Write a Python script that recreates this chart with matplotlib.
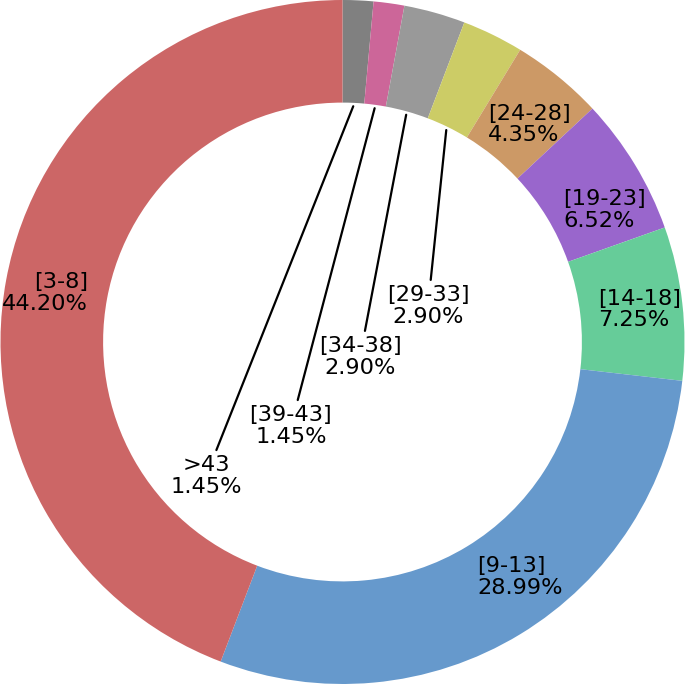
import numpy as np
import matplotlib
matplotlib.use("Agg")
import matplotlib.pyplot as plt

categories = [">43", "[39-43]", "[34-38]", "[29-33]", "[24-28]", "[19-23]", "[14-18]", "[9-13]", "[3-8]"]
counts = [2, 2, 4, 4, 6, 9, 10, 40, 61]
colors = ["#808080", "#cc6699", "#999999", "#cccc66", "#cc9966",
          "#9966cc", "#66cc99", "#6699cc", "#cc6666"]

# label placement (text anchors in axes data units)
inner_labels = {
    "[24-28]": (0.425, 0.637, "left"),
    "[19-23]": (0.645, 0.386, "left"),
    "[14-18]": (0.747, 0.094, "left"),
    "[9-13]": (0.393, -0.687, "left"),
    "[3-8]": (-0.744, 0.143, "right"),
}
callout_labels = {
    ">43": (-0.399, -0.392),
    "[39-43]": (-0.151, -0.246),
    "[34-38]": (0.051, -0.044),
    "[29-33]": (0.250, 0.105),
}

fig = plt.figure(figsize=(6.85, 6.84), dpi=100)
ax = fig.add_axes([0, 0, 1, 1])
wedges, _ = ax.pie(counts, colors=colors, startangle=90, counterclock=False,
                   radius=1.0, wedgeprops=dict(width=0.3, linewidth=0))
ax.set_aspect("equal")
ax.set_xlim(-1.0, 1.0)
ax.set_ylim(-1.0, 1.0)
ax.axis("off")

total = sum(counts)
fs = 16.2
ls = 1.08
for w, cat, c in zip(wedges, categories, counts):
    pct = 100.0 * c / total
    txt = f"{cat}\n{pct:.2f}%"
    if cat in inner_labels:
        x, y, ha = inner_labels[cat]
        ax.text(x, y, txt, ha=ha, va="center", fontsize=fs, color="black",
                linespacing=ls)
    else:
        ang = np.deg2rad((w.theta1 + w.theta2) / 2.0)
        r = 0.69
        xy = (r * np.cos(ang), r * np.sin(ang))
        ax.annotate(txt, xy=xy, xytext=callout_labels[cat], ha="center", va="center",
                    fontsize=fs, color="black", linespacing=ls,
                    arrowprops=dict(arrowstyle="-", color="black", lw=1.6,
                                    shrinkA=2, shrinkB=0))

fig.savefig("out.png", dpi=100)
